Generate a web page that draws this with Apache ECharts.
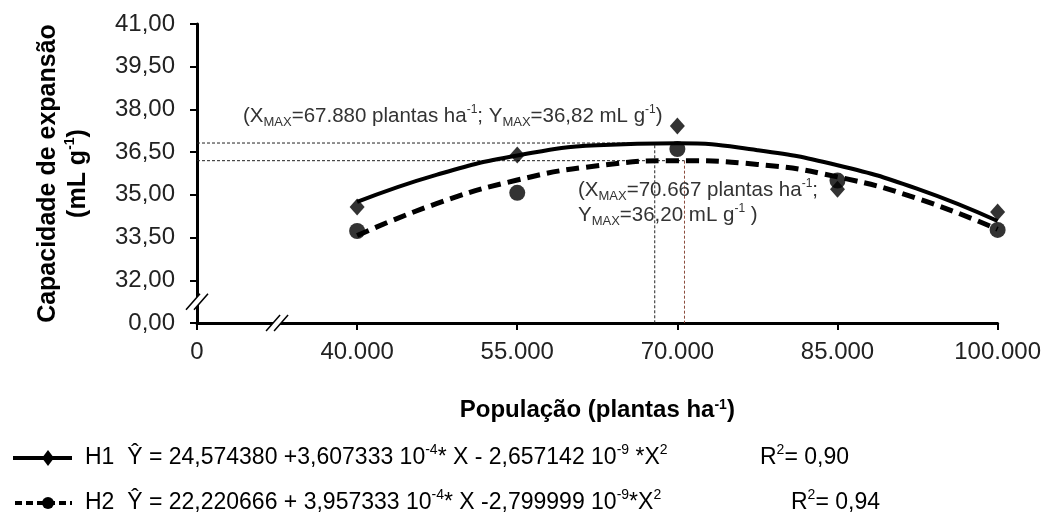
<!DOCTYPE html>
<html>
<head>
<meta charset="utf-8">
<script src="https://cdn.jsdelivr.net/npm/echarts@6/dist/echarts.min.js"></script>
<style>
  html, body { margin: 0; padding: 0; background: #fff; }
  #chart { width: 1044px; height: 525px; }
</style>
</head>
<body>
<div id="chart"></div>
<script>
// Plant population (plants/ha) and observed expansion capacity (mL/g)
const populacao = [40000, 55000, 70000, 85000, 100000];
const h1Observado = [34.57, 36.40, 37.42, 35.20, 34.40];
const h2Observado = [33.73, 35.07, 36.61, 35.50, 33.77];

// Fitted quadratic curves, read at regular population steps
const populacaoCurva = [40000, 47500, 55000, 62500, 70000, 77500, 85000, 92500, 100000];
const h1Ajustado = [34.75, 35.71, 36.38, 36.74, 36.81, 36.57, 36.04, 35.21, 34.08];
const h2Ajustado = [33.57, 34.70, 35.52, 36.02, 36.20, 36.07, 35.63, 34.87, 33.79];

// Points of maximum (population, capacity)
const maxH1 = [67880, 36.82];
const maxH2 = [70667, 36.20];

// Tick labels
const xTickLabels = ['0', '40.000', '55.000', '70.000', '85.000', '100.000'];
const yTickLabels = ['0,00', '32,00', '33,50', '35,00', '36,50', '38,00', '39,50', '41,00'];

// Both axes are broken: the first tick stands for zero, the rest are regular steps.
const X_OFFSET = 25000;   // population value drawn at the "0" tick position
const Y_OFFSET = 30.5;    // capacity value drawn at the "0,00" tick position
const X_STEP = 15000;
const Y_STEP = 1.5;

const px = v => v - X_OFFSET;
const py = v => v - Y_OFFSET;
const pair = (xs, ys) => xs.map((x, i) => [px(x), py(ys[i])]);

const FONT = "'Liberation Sans', Arial, sans-serif";

const chart = echarts.init(document.getElementById('chart'), null, { renderer: 'canvas' });

const refLine = (data, color) => ({
  type: 'line', data, symbol: 'none', silent: true, z: 1,
  lineStyle: { color, width: 1, type: [3, 2] }
});

const option = {
  animation: false,
  backgroundColor: '#fff',
  grid: { left: 197, top: 24, width: 804, height: 299 },
  xAxis: {
    type: 'value',
    min: 0, max: px(100000), interval: X_STEP,
    name: 'População (plantas ha{s|-1})',
    nameLocation: 'middle', nameGap: 75,
    nameTextStyle: {
      fontFamily: FONT, fontSize: 24, fontWeight: 'bold', color: '#000',
      rich: { s: { fontSize: 14, fontWeight: 'bold', verticalAlign: 'top', fontFamily: FONT } }
    },
    axisLine: { lineStyle: { color: '#000', width: 3 } },
    axisTick: { lineStyle: { color: '#000', width: 2 }, length: 7 },
    axisLabel: {
      fontFamily: FONT, fontSize: 24, color: '#222', margin: 17,
      formatter: v => xTickLabels[Math.round(v / X_STEP)]
    },
    splitLine: { show: false }
  },
  yAxis: {
    type: 'value',
    min: 0, max: py(41), interval: Y_STEP,
    name: 'Capacidade de expansão\n(mL g{s|-1})',
    nameLocation: 'middle', nameGap: 104, nameRotate: 90,
    nameTextStyle: {
      fontFamily: FONT, fontSize: 25, fontWeight: 'bold', color: '#000', lineHeight: 30,
      rich: { s: { fontSize: 14, fontWeight: 'bold', verticalAlign: 'top', fontFamily: FONT } }
    },
    axisLine: { show: true, lineStyle: { color: '#000', width: 3 } },
    axisTick: { show: true, lineStyle: { color: '#000', width: 2 }, length: 7 },
    axisLabel: {
      fontFamily: FONT, fontSize: 24, color: '#222', margin: 22,
      formatter: v => yTickLabels[Math.round(v / Y_STEP)]
    },
    splitLine: { show: false }
  },
  series: [
    // guide lines to the maxima
    refLine([[0, py(maxH1[1])], [px(maxH1[0]), py(maxH1[1])], [px(maxH1[0]), 0]], '#222'),
    refLine([[0, py(maxH2[1])], [px(maxH2[0]), py(maxH2[1])]], '#222'),
    refLine([[px(maxH2[0]), py(maxH2[1])], [px(maxH2[0]), 0]], '#8a4a3c'),
    {
      name: 'H1 ajuste', type: 'line', smooth: true, symbol: 'none', z: 3,
      data: pair(populacaoCurva, h1Ajustado),
      lineStyle: { color: '#000', width: 4 }
    },
    {
      name: 'H2 ajuste', type: 'line', smooth: true, symbol: 'none', z: 3,
      data: pair(populacaoCurva, h2Ajustado),
      lineStyle: { color: '#000', width: 5, type: [13, 7] }
    },
    {
      name: 'H1', type: 'scatter', symbol: 'diamond', symbolSize: [15, 17], z: 4,
      data: pair(populacao, h1Observado),
      itemStyle: { color: '#000' }
    },
    {
      name: 'H2', type: 'scatter', symbol: 'circle', symbolSize: 16, z: 4,
      data: pair(populacao, h2Observado),
      itemStyle: { color: '#000' }
    }
  ]
};

chart.setOption(option);

// Annotations, legend rows and axis-break marks
const richAnn = {
  n: { fontSize: 20.5, fontFamily: FONT, lineHeight: 25 },
  b: { fontSize: 13, verticalAlign: 'bottom', fontFamily: FONT },
  s: { fontSize: 12, verticalAlign: 'top', fontFamily: FONT }
};
const richLeg = {
  n: { fontSize: 23, fontFamily: FONT, lineHeight: 30 },
  s: { fontSize: 14, verticalAlign: 'top', fontFamily: FONT }
};

function breakMark(cx, cy) {
  const d = 4;
  return [
    { type: 'polygon', shape: { points: [[cx - 7 - d, cy + 8], [cx + 7 - d, cy - 8], [cx + 7 + d, cy - 8], [cx - 7 + d, cy + 8]] },
      style: { fill: '#fff' }, z: 10 },
    { type: 'line', shape: { x1: cx - 7 - d, y1: cy + 8, x2: cx + 7 - d, y2: cy - 8 }, style: { stroke: '#000', lineWidth: 1.5 }, z: 11 },
    { type: 'line', shape: { x1: cx - 7 + d, y1: cy + 8, x2: cx + 7 + d, y2: cy - 8 }, style: { stroke: '#000', lineWidth: 1.5 }, z: 11 }
  ];
}

const yb = chart.convertToPixel({ gridIndex: 0 }, [0, Y_STEP / 2]);
const xb = chart.convertToPixel({ gridIndex: 0 }, [X_STEP / 2, 0]);

const graphic = [
  ...breakMark(yb[0], yb[1]),
  ...breakMark(xb[0], xb[1]),
  {
    type: 'text', left: 243, top: 104, z: 5,
    style: {
      text: '{n|(X}{b|MAX}{n|=67.880 plantas ha}{s|-1}{n|; Y}{b|MAX}{n|=36,82 mL g}{s|-1}{n|)}',
      rich: richAnn, fill: '#333', fontFamily: FONT
    }
  },
  {
    type: 'text', left: 578, top: 178, z: 5,
    style: {
      text: '{n|(X}{b|MAX}{n|=70.667 plantas ha}{s|-1}{n|;}\n{n|Y}{b|MAX}{n|=36,20 mL g}{s|-1}{n| )}',
      rich: richAnn, fill: '#333', fontFamily: FONT
    }
  },
  // legend row H1
  { type: 'line', shape: { x1: 13, y1: 458, x2: 72, y2: 458 }, style: { stroke: '#000', lineWidth: 4 } },
  { type: 'polygon', shape: { points: [[48, 450], [54, 458], [48, 466], [42, 458]] }, style: { fill: '#000' } },
  {
    type: 'text', left: 85, top: 443,
    style: { text: '{n|H1  Ŷ = 24,574380 +3,607333 10}{s|-4}{n|* X - 2,657142 10}{s|-9}{n| *X}{s|2}', rich: richLeg, fill: '#000' }
  },
  {
    type: 'text', left: 760, top: 443,
    style: { text: '{n|R}{s|2}{n|= 0,90}', rich: richLeg, fill: '#000' }
  },
  // legend row H2
  { type: 'line', shape: { x1: 15, y1: 503, x2: 72, y2: 503 }, style: { stroke: '#000', lineWidth: 4, lineDash: [7, 4] } },
  { type: 'circle', shape: { cx: 48, cy: 503, r: 6 }, style: { fill: '#000' } },
  {
    type: 'text', left: 85, top: 488,
    style: { text: '{n|H2  Ŷ = 22,220666 + 3,957333 10}{s|-4}{n|* X -2,799999 10}{s|-9}{n|*X}{s|2}', rich: richLeg, fill: '#000' }
  },
  {
    type: 'text', left: 791, top: 488,
    style: { text: '{n|R}{s|2}{n|= 0,94}', rich: richLeg, fill: '#000' }
  }
];

chart.setOption({ graphic });
</script>
</body>
</html>
